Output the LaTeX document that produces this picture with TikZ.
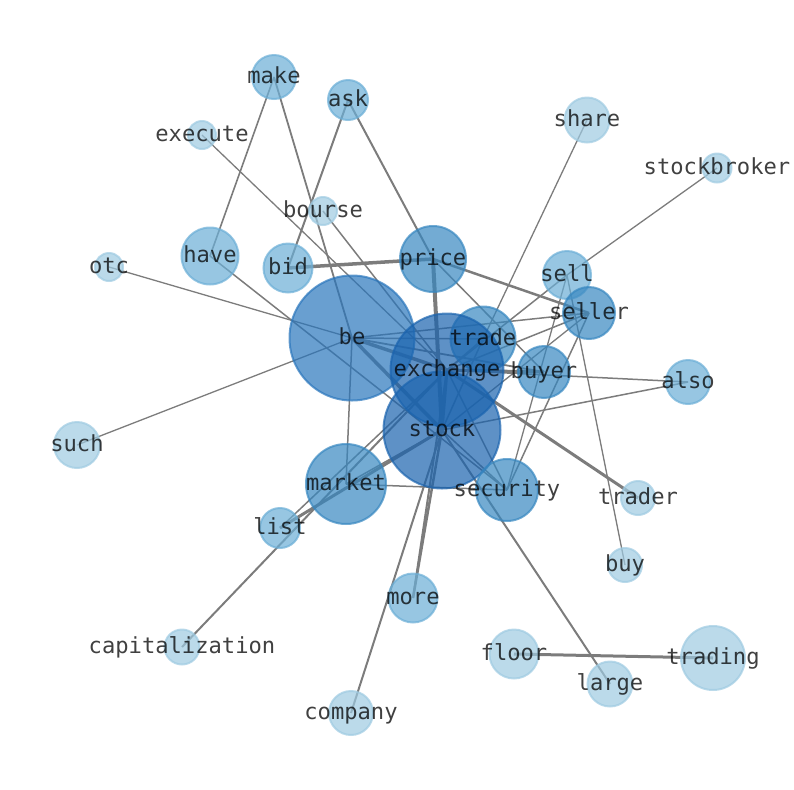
\documentclass[tikz,border=0pt]{standalone}
\usepackage{fontspec}
\newfontfamily\dvmono{DejaVu Sans Mono}
\definecolor{cA}{HTML}{9ECAE1}
\definecolor{cB}{HTML}{6BAED6}
\definecolor{cC}{HTML}{3787C0}
\definecolor{cD}{HTML}{2A76BC}
\definecolor{cE}{HTML}{1A63AE}
\definecolor{edgegray}{HTML}{7C7C7C}
\tikzset{
  edgeline/.style={draw=edgegray, line cap=butt},
  bubble/.style={circle, inner sep=0pt, outer sep=0pt, line width=1.5pt, fill opacity=0.7, draw opacity=0.7},
  lbl/.style={inner sep=0pt, outer sep=0pt, text=black, text opacity=0.75,
    font=\dvmono\fontsize{16.6}{16.6}\selectfont, text height=0.76em, text depth=0.24em,
    anchor=center, yshift=-2.4pt}
}
\begin{document}
\begin{tikzpicture}[x=0.75pt, y=-0.75pt]
\useasboundingbox (0,0) rectangle (794,790);
% node positions
\foreach \n/\x/\y in {make/274/77, ask/348/100, execute/202/135, share/587/120,
  stockbroker/717/168, bourse/323/211, have/210/256, bid/288/268, otc/109/267,
  price/433/259, sell/567/275, seller/589/313, be/352/338, trade/483/339,
  exchange/447/370, buyer/544/372, also/688/382, stock/442/430, such/77/445,
  market/346/484, security/507/490, trader/638/498, list/280/528, buy/625/565,
  more/413/598, capitalization/182/647, floor/514/654, trading/713/658,
  large/610/684, company/351/713}
  { \coordinate (\n) at (\x,\y); }
% edges
\foreach \a/\b/\w in {make/have/1.6, make/be/1.8, ask/bid/2, ask/price/2,
  execute/exchange/1.3, bourse/exchange/1.5, have/security/1.5, otc/be/1.3,
  bid/price/3.5, such/be/1.3, share/trade/1.3, stockbroker/sell/1.3,
  price/seller/2.5, price/buyer/1.5, price/stock/4, sell/buy/1.3,
  sell/exchange/1.5, sell/security/1.3, seller/security/1.5, seller/be/1.5,
  seller/exchange/1.5, seller/stock/1.3, be/trade/1.5, be/exchange/3.5, be/stock/3.5,
  be/market/1.5, be/buyer/1.8, exchange/buyer/3, exchange/trade/1.5,
  exchange/stock/3, exchange/also/1.5, exchange/trader/3, exchange/security/1.5,
  exchange/capitalization/2, exchange/list/1.5, exchange/more/2,
  stock/also/1.5, stock/list/3, stock/more/2.5, stock/company/2, stock/large/2,
  stock/security/1.5, stock/trade/1.5, market/security/1.5, market/stock/1.5,
  floor/trading/3}
  { \draw[edgeline, line width=\w*0.75pt] (\a) -- (\b); }
% bubbles
\foreach \n/\r/\c in {make/23/cB, ask/21/cB, execute/15/cA, share/23.5/cA,
  stockbroker/15.5/cA, bourse/15/cA, have/29.5/cB, bid/25.5/cB, otc/15/cA,
  price/34/cC, sell/25/cB, seller/27/cC, be/63.5/cD, trade/33.5/cC,
  exchange/57.5/cE, buyer/27/cC, also/23/cB, stock/59.5/cE, such/24/cA,
  market/41/cC, security/32/cC, trader/18/cA, list/21/cB, buy/18/cA,
  more/25.5/cB, capitalization/18.5/cA, floor/25.5/cA, trading/33/cA,
  large/23.5/cA, company/23/cA}
  { \node[bubble, fill=\c, draw=\c, minimum size={(2*\r-2)*0.75pt}] (\n-c) at (\n) {}; }
% labels
\foreach \n in {make, ask, execute, share, stockbroker, bourse, have, bid, otc,
  price, sell, seller, be, trade, exchange, buyer, also, stock, such, market,
  security, trader, list, buy, more, capitalization, floor, trading, large, company}
  { \node[lbl] (\n-t) at (\n) {\n}; }
\end{tikzpicture}
\end{document}
